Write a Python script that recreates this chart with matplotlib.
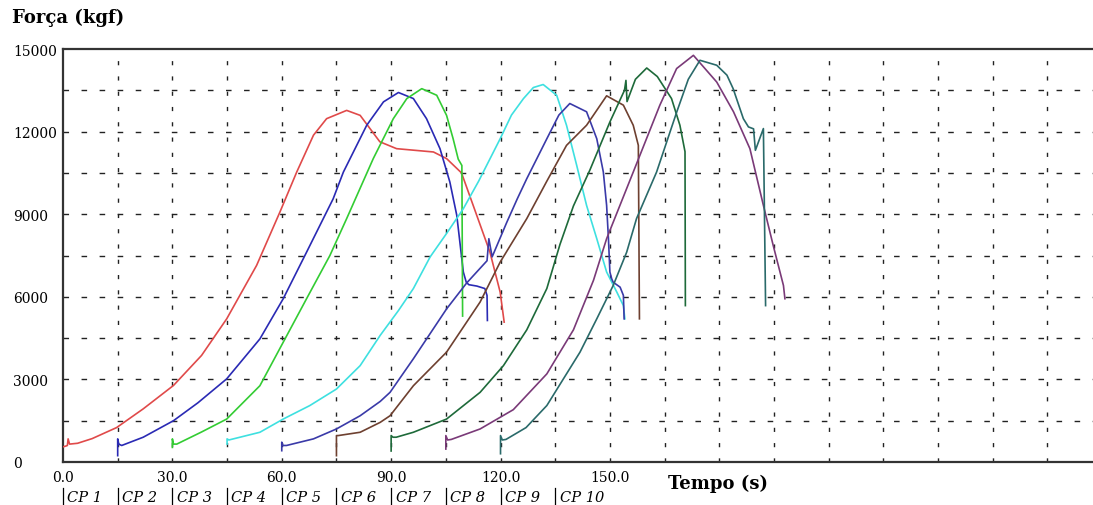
import numpy as np
import matplotlib.pyplot as plt

# tempos (s) e forças (kgf), um par de listas por corpo de prova
t1 = [0, 0.8, 1.2, 1.4, 1.8, 4, 8, 14.7, 22, 30.3, 38, 44.9, 53.1, 59.5, 64.1, 68.7, 72.3, 77.8,
      81.5, 84.2, 86.9, 91.5, 101.6, 105.2, 109.3, 112.5, 117.1, 119.9, 121]
f1 = [550, 580, 600, 840, 650, 680, 850, 1250, 1930, 2780, 3870, 5200, 7140, 9080, 10530, 11870, 12470, 12770,
      12590, 12110, 11630, 11380, 11260, 11020, 10500, 9320, 7620, 6170, 5080]

t2 = [15, 15, 15.3, 16.1, 22, 30.3, 37, 44.9, 54, 60.4, 66.8, 74.1, 76.9, 83.3, 87.9, 92, 96.1, 99.7,
      103.4, 106.1, 108, 109.8, 110.6, 111.3, 113.5, 115.7, 116.3, 116.4]
f2 = [230, 840, 650, 600, 900, 1500, 2150, 3020, 4470, 5930, 7620, 9560, 10530, 12230, 13080, 13420, 13200, 12470,
      11380, 10170, 8960, 6900, 6530, 6440, 6390, 6300, 6050, 5140]

t3 = [30, 30, 30.3, 31.2, 38, 44.9, 54, 60.4, 66.8, 73.2, 77.8, 85.1, 90.6, 94.3, 98.4, 102.5, 105.2,
      107, 108.4, 109.4, 109.6]
f3 = [530, 840, 650, 650, 1090, 1560, 2770, 4350, 5930, 7500, 8840, 11020, 12470, 13200, 13560, 13320, 12590,
      11740, 11000, 10770, 5300]

t4 = [45, 45, 45.5, 54, 60.4, 67.7, 75, 81.5, 87, 92, 96.1, 100.7, 105.2, 109.8, 114, 119.9, 123, 126.3,
      129, 131.7, 135.4, 138.1, 140.9, 143.6, 146.4, 149.1, 151.9, 153.7, 154.1]
f4 = [650, 840, 800, 1080, 1560, 2050, 2650, 3500, 4600, 5500, 6300, 7450, 8300, 9200, 10200, 11740, 12600, 13200,
      13600, 13710, 13320, 12230, 10770, 9320, 8110, 6900, 6170, 5680, 5200]

t5 = [60, 60, 60.3, 61.3, 68.7, 75, 81.5, 87, 89.7, 96.1, 105.2, 110.7, 116.3, 116.8, 117.7, 121.7, 124.6,
      127.2, 132.7, 136, 139, 143.6, 146.4, 148.2, 149.1, 149.6, 150, 150.5, 150.9, 152.8, 153.7, 153.9]
f5 = [410, 720, 600, 600, 840, 1200, 1680, 2200, 2530, 3750, 5560, 6500, 7310, 8110, 7450, 8700, 9560,
      10290, 11740, 12600, 13020, 12720, 11740, 10530, 9320, 8110, 6900, 6650, 6530, 6350, 6050, 5200]

t6 = [75, 75, 75.5, 76.5, 81.5, 87, 89.7, 96.1, 105.2, 114.4, 119.9, 127.2, 132.7, 138.1, 143.6, 149.1,
      153.7, 156.4, 157.8, 158.1]
f6 = [230, 960, 960, 980, 1080, 1440, 1680, 2770, 3990, 5810, 7260, 8840, 10200, 11500, 12230, 13300,
      12960, 12230, 11500, 5200]

t7 = [90, 90, 90.5, 91.4, 96.1, 105.2, 114.4, 120.8, 127.2, 132.7, 136.3, 140, 144.5, 150, 154, 154.4,
      154.7, 157, 160.1, 163, 166.9, 169.2, 170.6, 170.7]
f7 = [400, 960, 900, 900, 1080, 1560, 2530, 3500, 4800, 6300, 7900, 9300, 10600, 12350, 13500, 13860,
      13090, 13900, 14310, 14000, 13200, 12230, 11270, 5680]

t8 = [105, 105, 105.5, 106.5, 114.4, 123.5, 132.7, 140, 145.5, 149.1, 156.4, 163.7, 168.3, 172.9, 179.3,
      183.9, 188.4, 192.1, 194.8, 197.6, 198.0]
f8 = [470, 960, 800, 820, 1200, 1900, 3200, 4800, 6600, 8110, 10530, 12960, 14290, 14770, 13800,
      12720, 11380, 9320, 7860, 6410, 5930]

t9 = [120, 120, 120.5, 121.5, 127, 132.7, 141.8, 146.4, 150.9, 154.6, 157.3, 162.8, 168.3, 171.5, 174.7,
      179.3, 182.1, 183.8, 186.6, 188, 189.4, 189.9, 192.1, 192.7]
f9 = [300, 960, 800, 820, 1250, 2050, 3990, 5200, 6410, 7620, 8840, 10530, 12700, 13900, 14590,
      14410, 14050, 13560, 12470, 12170, 12100, 11320, 12110, 5680]

tempos = [t1, t2, t3, t4, t5, t6, t7, t8, t9]
forcas = [f1, f2, f3, f4, f5, f6, f7, f8, f9]
cores = ["#e04a4a", "#2a2ab4", "#33cc33", "#3ee0e0", "#3a3aa8", "#6e4030", "#1e6a3a", "#7a3a78", "#2a6a6a"]
rotulos_cp = ["CP 1", "CP 2", "CP 3", "CP 4", "CP 5", "CP 6", "CP 7", "CP 8", "CP 9", "CP 10"]
inicio_cp = [0, 15, 30, 45, 60, 75, 90, 105, 120, 135]
xticks = [0, 30, 60, 90, 120, 150]
yticks = [0, 3000, 6000, 9000, 12000, 15000]

fig = plt.figure(figsize=(10.93, 5.06), dpi=100)
ax = fig.add_axes([63 / 1093, 43 / 506, 1 - 63 / 1093, 413 / 506])
ax.set_xlim(0, 282.5)
ax.set_ylim(0, 15000)

for xs in np.arange(15, 280, 15):
    ax.axvline(xs, color="#222222", lw=1.0, ls=(0, (3, 8)), zorder=1)
for ys in np.arange(1500, 15000, 1500):
    ax.axhline(ys, color="#222222", lw=1.0, ls=(0, (4, 9)), zorder=1)

for t, f, c in zip(tempos, forcas, cores):
    ax.plot(t, f, color=c, lw=1.2, zorder=3)

ax.set_xticks(xticks)
ax.set_xticklabels([f"{v:.1f}" for v in xticks], fontfamily="DejaVu Serif", fontsize=10)
ax.set_yticks(yticks)
ax.set_yticklabels([str(v) for v in yticks], fontfamily="DejaVu Serif", fontsize=10, ha="left")
ax.tick_params(axis="y", length=0, pad=36)
ax.tick_params(axis="x", length=0, pad=6)

for s in ["top", "bottom", "left"]:
    ax.spines[s].set_color("#333333")
    ax.spines[s].set_linewidth(1.6)
ax.spines["right"].set_visible(False)

trans = ax.get_xaxis_transform()
for x0, r in zip(inicio_cp, rotulos_cp):
    ax.plot([x0, x0], [-0.062, -0.102], color="black", lw=0.9, transform=trans, clip_on=False)
    ax.text(x0 + 1.2, -0.085, r, transform=trans, fontsize=10.5,
            fontfamily="DejaVu Serif", style="italic", ha="left", va="center", clip_on=False)

ax.text(166, -0.05, "Tempo (s)", transform=trans, fontsize=13,
        fontfamily="DejaVu Serif", fontweight="bold", ha="left", va="center")
fig.text(12 / 1093, 1 - 18 / 506, "Força (kgf)", fontsize=13, fontfamily="DejaVu Serif",
         fontweight="bold", ha="left", va="center")

fig.savefig("out.png", dpi=100)
